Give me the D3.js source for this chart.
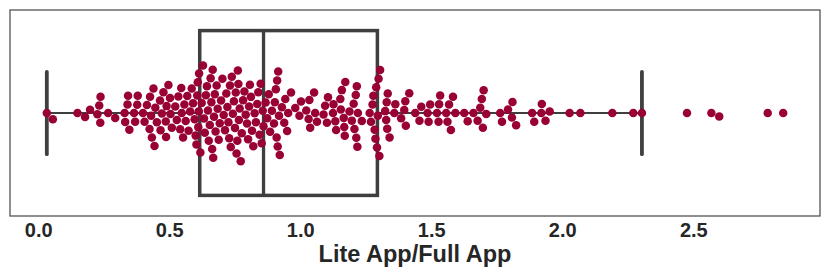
<!DOCTYPE html>
<html><head><meta charset="utf-8">
<script src="https://cdn.jsdelivr.net/npm/d3@7"></script>
<style>body{margin:0;background:#fff}</style>
</head><body><svg id="c" width="830" height="277"></svg>
<script>
// Lite App / Full App ratios (one value per app)
const ratios = [
0.033, 0.056, 0.150, 0.179, 0.198, 0.226, 0.233, 0.237, 0.238, 0.267, 0.294, 0.330, 0.332, 0.341, 0.343, 0.348, 0.366, 0.370, 0.378, 0.380, 0.400, 0.406, 0.415,
0.425, 0.427, 0.431, 0.434, 0.440, 0.444, 0.447, 0.453, 0.465, 0.467, 0.472, 0.478, 0.487, 0.488, 0.490, 0.497, 0.503, 0.505, 0.510, 0.523, 0.529, 0.535, 0.542, 0.546, 0.548,
0.553, 0.558, 0.563, 0.569, 0.574, 0.580, 0.586, 0.591, 0.597, 0.601, 0.604, 0.607, 0.609, 0.611, 0.613, 0.614,
0.619, 0.624, 0.629, 0.633, 0.636, 0.640, 0.644, 0.648, 0.651, 0.655,
0.658, 0.661, 0.664, 0.666, 0.668, 0.671, 0.674, 0.677, 0.681, 0.685, 0.689, 0.693,
0.698, 0.703, 0.708, 0.713, 0.718, 0.722, 0.726, 0.729, 0.732,
0.735, 0.739, 0.743, 0.747, 0.751, 0.754, 0.757, 0.760, 0.762, 0.764, 0.766, 0.769,
0.773, 0.777, 0.782, 0.787, 0.792, 0.797, 0.801, 0.805, 0.808,
0.812, 0.816, 0.821, 0.826, 0.831, 0.836, 0.840, 0.845, 0.849, 0.853, 0.857,
0.860, 0.868, 0.874, 0.880,
0.885, 0.892, 0.900, 0.903, 0.907, 0.910, 0.912, 0.914, 0.916, 0.919, 0.922, 0.930,
0.939, 0.943, 0.950, 0.954, 0.965, 0.981, 0.997, 1.003, 1.023, 1.032, 1.035, 1.038, 1.053, 1.057, 1.064, 1.089, 1.095, 1.102, 1.106, 1.125, 1.127, 1.134, 1.137, 1.153, 1.155, 1.159, 1.166, 1.168, 1.170, 1.172, 1.188,
1.197, 1.204, 1.207, 1.212, 1.214, 1.216, 1.218, 1.220, 1.235, 1.265, 1.270, 1.276, 1.279, 1.284, 1.287, 1.290, 1.293, 1.296, 1.299, 1.302, 1.305, 1.324, 1.328, 1.330, 1.332, 1.334, 1.341,
1.359, 1.363, 1.385, 1.397, 1.401, 1.403, 1.416, 1.439, 1.455, 1.462, 1.486, 1.490, 1.496, 1.522, 1.528, 1.530, 1.534, 1.557, 1.562, 1.568, 1.575, 1.583, 1.592, 1.626, 1.639, 1.661, 1.677, 1.687, 1.693, 1.697, 1.700, 1.710, 1.763, 1.770, 1.793, 1.808, 1.810, 1.824, 1.885, 1.893, 1.920, 1.922, 1.936, 1.952,
2.028, 2.069, 2.191, 2.271, 2.304, 2.476, 2.569, 2.599, 2.784, 2.843
];
const tickValues = [0.0, 0.5, 1.0, 1.5, 2.0, 2.5];
const axisLabel = "Lite App/Full App";

const L = 10, R = 820, T = 10, B = 216;
const FONT = "'Liberation Sans', Arial, Helvetica, sans-serif";
const svg = d3.select("#c");

const sorted = ratios.slice().sort(d3.ascending);
const mn = sorted[0], mx = sorted[sorted.length - 1], pad = (mx - mn) * 0.05;
const x = d3.scaleLinear().domain([mn - pad, mx + pad]).range([L, R]);
const y = d3.scaleLinear().domain([-0.5, 0.5]).range([T, B]);

const q1 = d3.quantile(sorted, 0.25), med = d3.quantile(sorted, 0.5), q3 = d3.quantile(sorted, 0.75);
const iqr = q3 - q1;
const lo = d3.min(sorted.filter(v => v >= q1 - 1.5 * iqr));
const hi = d3.max(sorted.filter(v => v <= q3 + 1.5 * iqr));

// frame
svg.append("rect").attr("x", L).attr("y", T).attr("width", R - L).attr("height", B - T)
  .attr("fill", "none").attr("stroke", "#4d4d4d").attr("stroke-width", 1.25);

// box plot
const gray = "#3f3f3f";
const bx = svg.append("g").attr("stroke", gray).attr("fill", "none");
bx.append("line").attr("x1", x(lo)).attr("x2", x(q1)).attr("y1", y(0)).attr("y2", y(0)).attr("stroke-width", 2.2);
bx.append("line").attr("x1", x(q3)).attr("x2", x(hi)).attr("y1", y(0)).attr("y2", y(0)).attr("stroke-width", 2.2);
[lo, hi].forEach(v => bx.append("line").attr("x1", x(v)).attr("x2", x(v))
  .attr("y1", y(-0.2)).attr("y2", y(0.2)).attr("stroke-width", 3.8).attr("stroke-linecap", "round"));
bx.append("rect").attr("x", x(q1)).attr("y", y(-0.4)).attr("width", x(q3) - x(q1))
  .attr("height", y(0.4) - y(-0.4)).attr("stroke-width", 3.5);
bx.append("line").attr("x1", x(med)).attr("x2", x(med)).attr("y1", y(-0.4)).attr("y2", y(0.4)).attr("stroke-width", 3.3);

// swarm (seaborn-like beeswarm)
const r = 4.25, cy = y(0);
const placed = [];
sorted.forEach(v => {
  const px = x(v);
  const neigh = [];
  for (let k = placed.length - 1; k >= 0; k--) {
    if (px - placed[k].px < 2 * r) neigh.unshift(placed[k]); else break;
  }
  const cands = [0];
  let leftFirst = true;
  neigh.forEach(n => {
    const d = px - n.px;
    const dx = Math.sqrt(Math.max(4 * r * r - d * d, 0)) * 1.05;
    const cl = n.off - dx, cr = n.off + dx;
    if (leftFirst) cands.push(cl, cr); else cands.push(cr, cl);
    leftFirst = !leftFirst;
  });
  const order = cands.map((c, i) => [Math.abs(c), i, c]).sort((a, b) => a[0] - b[0] || a[1] - b[1]);
  let chosen = order[0][2];
  for (const o of order) {
    const c = o[2];
    if (neigh.every(n => (n.px - px) ** 2 + (n.off - c) ** 2 >= 4 * r * r - 1e-6)) { chosen = c; break; }
  }
  placed.push({ v, px, off: chosen });
});

svg.append("g").selectAll("circle").data(placed).join("circle")
  .attr("cx", d => x(d.v)).attr("cy", d => cy - d.off).attr("r", r).attr("fill", "#990033");

// x axis
const gx = svg.append("g").attr("transform", `translate(0,${B})`)
  .call(d3.axisBottom(x).tickValues(tickValues).tickFormat(d3.format(".1f")).tickSize(0).tickPadding(6.3));
gx.select(".domain").remove();
gx.selectAll("text").attr("font-family", FONT).attr("font-size", 20).attr("font-weight", "bold").attr("fill", "#262626");

svg.append("text").attr("x", (L + R) / 2).attr("y", 262).attr("text-anchor", "middle")
  .attr("font-family", FONT).attr("font-size", 23.5).attr("font-weight", "bold").attr("fill", "#262626")
  .text(axisLabel);
</script></body></html>
